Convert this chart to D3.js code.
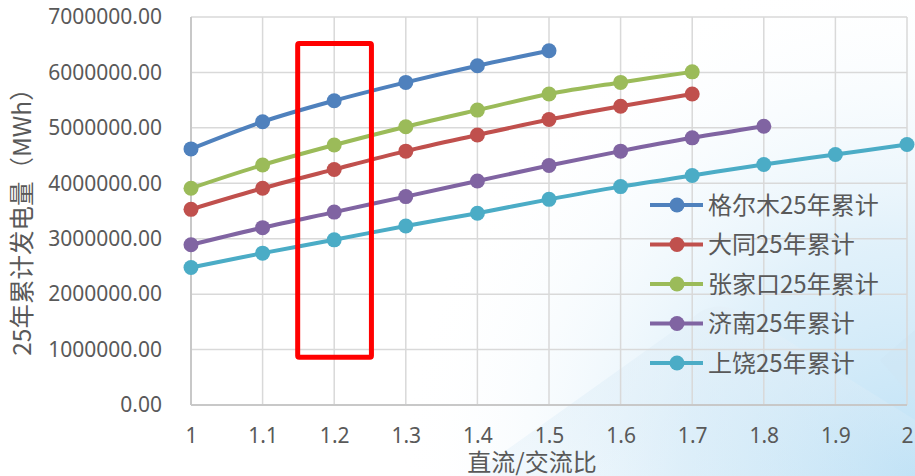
<!DOCTYPE html>
<html>
<head>
<meta charset="utf-8">
<script src="https://cdn.jsdelivr.net/npm/d3@7"></script>
<style>
html,body{margin:0;padding:0;background:#fff;}
svg{display:block;}
text{font-family:"Noto Sans CJK SC","Noto Sans",sans-serif;fill:#595959;}
</style>
</head>
<body>
<svg id="chart" width="915" height="476"></svg>
<script>
// ---- data ----
const ratios = [1, 1.1, 1.2, 1.3, 1.4, 1.5, 1.6, 1.7, 1.8, 1.9, 2];
const seriesNames = ["格尔木25年累计", "大同25年累计", "张家口25年累计", "济南25年累计", "上饶25年累计"];
const golmud      = [4620000, 5110000, 5490000, 5820000, 6120000, 6390000];
const datong      = [3530000, 3910000, 4250000, 4580000, 4870000, 5150000, 5390000, 5610000];
const zhangjiakou = [3910000, 4330000, 4690000, 5020000, 5320000, 5610000, 5820000, 6010000];
const jinan       = [2890000, 3200000, 3480000, 3760000, 4040000, 4320000, 4580000, 4820000, 5030000];
const shangrao    = [2480000, 2740000, 2980000, 3230000, 3460000, 3710000, 3940000, 4140000, 4340000, 4520000, 4700000];
const seriesColors = ["#4f81bd", "#c0504d", "#9bbb59", "#8064a2", "#4bacc6"];
const yTicks = [0, 1000000, 2000000, 3000000, 4000000, 5000000, 6000000, 7000000];
const xTickLabels = ["1", "1.1", "1.2", "1.3", "1.4", "1.5", "1.6", "1.7", "1.8", "1.9", "2"];
const highlightX = [1.149, 1.252];
const highlightY = [860000, 6520000];
const xTitle = "直流/交流比";
const yTitle = "25年累计发电量（MWh）";

const seriesValues = [golmud, datong, zhangjiakou, jinan, shangrao];

(function () {
// ---- layout ----
const svg = d3.select("#chart");
const W = 915, H = 476;
const pL = 191, pR = 907, pT = 17, pB = 405;

// soft background tint (bottom-right)
const defs = svg.append("defs");
const rg = defs.append("radialGradient").attr("id", "bgR")
  .attr("gradientUnits", "userSpaceOnUse")
  .attr("cx", 915).attr("cy", 476).attr("r", 520);
rg.append("stop").attr("offset", "0").attr("stop-color", "#bde1f6").attr("stop-opacity", 1);
rg.append("stop").attr("offset", "0.45").attr("stop-color", "#d9edf9").attr("stop-opacity", 0.8);
rg.append("stop").attr("offset", "1").attr("stop-color", "#ffffff").attr("stop-opacity", 0);
svg.append("rect").attr("x", 0).attr("y", 0).attr("width", W).attr("height", H)
  .attr("fill", "url(#bgR)");
const mg = defs.append("linearGradient").attr("id", "bgM")
  .attr("x1", "0").attr("y1", "0").attr("x2", "0").attr("y2", "1");
mg.append("stop").attr("offset", "0").attr("stop-color", "#e4f0f8").attr("stop-opacity", 0.9);
mg.append("stop").attr("offset", "1").attr("stop-color", "#d2e8f6").attr("stop-opacity", 0.3);
svg.append("path")
  .attr("d", `M470,${H} L700,312 Q720,300 745,314 L${W},420 L${W},${H} Z`)
  .attr("fill", "url(#bgM)").attr("opacity", 0.7);
svg.append("path")
  .attr("d", `M${W},330 L880,360 L${W},400 Z`)
  .attr("fill", "#cfe6f5").attr("opacity", 0.6);

const x = d3.scaleLinear().domain([1, 2]).range([pL, pR]);
const y = d3.scaleLinear().domain([0, 7000000]).range([pB, pT]);

// gridlines
svg.append("g").selectAll("line").data(yTicks.filter(d => d > 0)).join("line")
  .attr("x1", pL).attr("x2", pR)
  .attr("y1", d => y(d)).attr("y2", d => y(d))
  .attr("stroke", "#d9d9d9").attr("stroke-width", 1.5);
svg.append("g").selectAll("line").data(ratios.slice(1)).join("line")
  .attr("x1", d => x(d)).attr("x2", d => x(d))
  .attr("y1", pT).attr("y2", pB)
  .attr("stroke", "#d9d9d9").attr("stroke-width", 1.5);

// axes lines
svg.append("line").attr("x1", pL).attr("x2", pL).attr("y1", pT).attr("y2", pB)
  .attr("stroke", "#c8c8c8").attr("stroke-width", 2);
svg.append("line").attr("x1", pL).attr("x2", pR).attr("y1", pB).attr("y2", pB)
  .attr("stroke", "#c8c8c8").attr("stroke-width", 2);

// y axis labels
const yAxis = d3.axisLeft(y).tickValues(yTicks).tickFormat(d3.format(".2f")).tickSize(0).tickPadding(0);
const yg = svg.append("g").attr("transform", `translate(162,0)`).call(yAxis);
yg.select(".domain").remove();
yg.selectAll("text").attr("font-size", 21).attr("fill", "#595959")
  .style("font-family", '"Noto Sans","Noto Sans CJK SC",sans-serif');

// x axis labels
const xAxis = d3.axisBottom(x).tickValues(ratios).tickFormat((d, i) => xTickLabels[i]).tickSize(0).tickPadding(0);
const xg = svg.append("g").attr("transform", `translate(0,428)`).call(xAxis);
xg.select(".domain").remove();
xg.selectAll("text").attr("font-size", 21).attr("fill", "#595959")
  .style("font-family", '"Noto Sans","Noto Sans CJK SC",sans-serif');

// titles
svg.append("text").attr("x", 532).attr("y", 471)
  .attr("text-anchor", "middle").attr("font-size", 24).text(xTitle);
svg.append("text").attr("transform", "translate(31,216) rotate(-90)")
  .attr("text-anchor", "middle").attr("font-size", 24.5).text(yTitle);

// series
const line = d3.line().x(d => x(d[0])).y(d => y(d[1])).curve(d3.curveCatmullRom.alpha(0));
seriesValues.forEach((vals, i) => {
  const pts = vals.map((v, j) => [ratios[j], v]);
  const g = svg.append("g");
  g.append("path").attr("d", line(pts)).attr("fill", "none")
    .attr("stroke", seriesColors[i]).attr("stroke-width", 4).attr("stroke-linecap", "round");
  g.selectAll("circle").data(pts).join("circle")
    .attr("cx", d => x(d[0])).attr("cy", d => y(d[1])).attr("r", 7.5)
    .attr("fill", seriesColors[i]);
});

// highlight rectangle
svg.append("rect")
  .attr("x", x(highlightX[0])).attr("y", y(highlightY[1]))
  .attr("width", x(highlightX[1]) - x(highlightX[0]))
  .attr("height", y(highlightY[0]) - y(highlightY[1]))
  .attr("fill", "none").attr("stroke", "#ff0000").attr("stroke-width", 5)
  .attr("rx", 1.5);

// legend
const legend = svg.append("g");
seriesNames.forEach((name, i) => {
  const ly = 205 + i * 39.5;
  legend.append("line").attr("x1", 650).attr("x2", 703).attr("y1", ly).attr("y2", ly)
    .attr("stroke", seriesColors[i]).attr("stroke-width", 4);
  legend.append("circle").attr("cx", 677).attr("cy", ly).attr("r", 7.5).attr("fill", seriesColors[i]);
  legend.append("text").attr("x", 708).attr("y", ly).attr("dy", "0.36em")
    .attr("font-size", 24).text(name);
});
})();
</script>
</body>
</html>
